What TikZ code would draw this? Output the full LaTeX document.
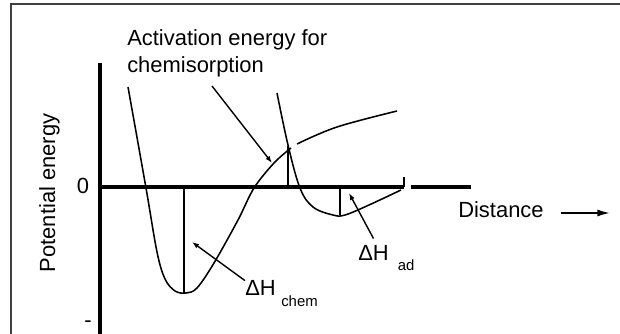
\documentclass[tikz,border=0pt]{standalone}
\usepackage{fontspec}
\setmainfont{Liberation Sans}
\usetikzlibrary{positioning,arrows.meta,calc}

\begin{document}
\begin{tikzpicture}[x=0.025cm, y=-0.025cm, >={Latex[length=5pt,width=3.6pt]},
  lbl/.style={inner sep=0pt, font=\fontsize{15.6}{19.9}\selectfont},
  sub/.style={inner sep=0pt, font=\fontsize{10.6}{12}\selectfont},
  axis/.style={line width=2.7pt},
  curve/.style={line width=1.1pt},
  level/.style={line width=0.8pt},
  ptr/.style={line width=1pt, ->}]
  \useasboundingbox (0,0) rectangle (620,334);
  \draw[darkgray, line width=1pt] (11,334) -- (11,4) -- (620,4);

  \draw[axis] (100,63) -- (100,334);
  \draw[axis] (100,187) -- (404,187);
  \draw[axis] (411,187) -- (471,187);
  \draw[level] (404,177) -- (404,187);

  \node[lbl] (zero) at (83,186) {0};
  \node[lbl] (minus) at (88,324) {-};
  \node[lbl, rotate=90, anchor=base] (pe) at (55,193) {Potential energy};
  \node[lbl, anchor=base west, align=left] (act) at (127,73) {Activation energy for\\chemisorption};
  \node[lbl, anchor=base west] (dist) at (458,218) {Distance};
  \coordinate (distTail) at (561,213);
  \coordinate (distTip) at (610,213);
  \draw[line width=1.2pt, -{Latex[length=9pt,width=5pt]}] (distTail) -- (distTip);

  \draw[curve] plot[smooth, tension=0.55] coordinates {(128,87) (146,188) (157,252) (165,279) (175,291) (186,293) (197,288) (214,263) (238,220) (254,188) (274,163) (291,148)};
  \draw[curve] plot[smooth, tension=0.6] coordinates {(297,144) (337,127) (397,111)};
  \draw[curve] plot[smooth, tension=0.6] coordinates {(277,93) (288,145) (300,188) (313,207) (333,215) (345,215) (369,205) (401,190)};

  \coordinate (chemMin) at (184,293);
  \coordinate (adMin) at (340,215);
  \coordinate (cross) at (288,146);
  \draw[level] (184,187) -- (chemMin);
  \draw[level] (340,187) -- (adMin);
  \draw[level] (288,187) -- (cross);

  \coordinate (actTail) at (212,86);
  \coordinate (actTip) at (272,163);
  \draw[ptr] (actTail) -- (actTip);

  \node[lbl, anchor=base west] (dHc) at (245,296) {ΔH};
  \node[sub, anchor=base west] (dHcs) at ([xshift=3.5pt,yshift=-7.8pt]dHc.base east) {chem};
  \coordinate (chemTip) at (192,242);
  \draw[ptr] (dHc.north west) -- (chemTip);

  \node[lbl, anchor=base west] (dHa) at (358,261) {ΔH};
  \node[sub, anchor=base west] (dHas) at ([xshift=6pt,yshift=-6.5pt]dHa.base east) {ad};
  \coordinate (adTip) at (349,193);
  \draw[ptr] ([yshift=5pt]dHa.north) -- (adTip);
\end{tikzpicture}
\end{document}
